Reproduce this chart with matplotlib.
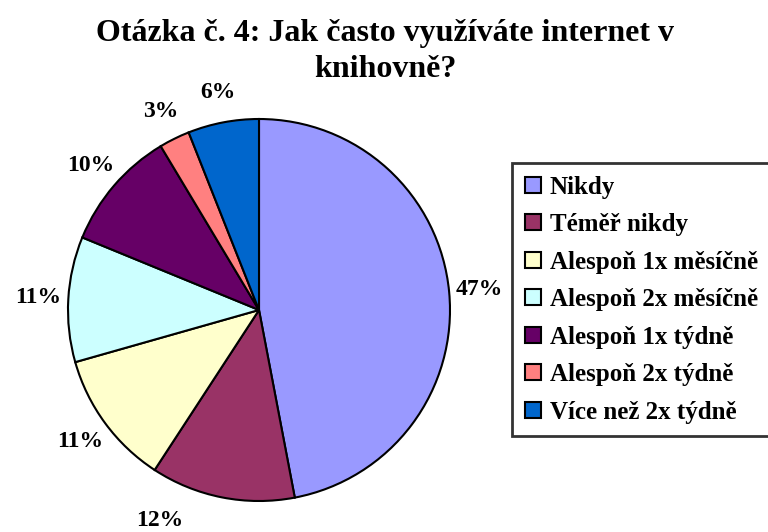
import matplotlib
matplotlib.use("Agg")
import matplotlib.pyplot as plt

# data (share of respondents, %)
categories = ["Nikdy", "Téměř nikdy", "Alespoň 1x měsíčně", "Alespoň 2x měsíčně",
              "Alespoň 1x týdně", "Alespoň 2x týdně", "Více než 2x týdně"]
values = [47.0, 12.2, 11.4, 10.6, 10.2, 2.6, 6.0]
colors = ["#9999FF", "#993366", "#FFFFCC", "#CCFFFF", "#660066", "#FF8080", "#0066CC"]

plt.rcParams["font.family"] = ["Liberation Serif", "DejaVu Serif"]
plt.rcParams["font.weight"] = "bold"

fig = plt.figure(figsize=(7.68, 5.32), dpi=100)
ax = fig.add_axes([68 / 768, 31 / 532, 382 / 768, 382 / 532])

wedges, texts, autotexts = ax.pie(
    values, colors=colors, startangle=90, counterclock=False,
    autopct="%.0f%%", pctdistance=1.16,
    wedgeprops=dict(edgecolor="black", linewidth=1.5),
    textprops=dict(fontsize=17, fontweight="bold"),
)
ax.set_xlim(-1, 1)
ax.set_ylim(-1, 1)
ax.set_aspect("equal")
# Excel pushed the 12 % label a bit to the left
autotexts[1].set_position((-0.52, -1.10))

fig.text(385 / 768, 1 - 19 / 532, "Otázka č. 4: Jak často využíváte internet v\nknihovně?",
         ha="center", va="top", fontsize=23, fontweight="bold", linespacing=1.3)

leg = fig.legend(wedges, categories, loc="upper left",
                 bbox_to_anchor=(512 / 768, 1 - 163 / 532),
                 fontsize=18, frameon=True, fancybox=False, edgecolor="black",
                 handlelength=0.65, handleheight=0.62, handletextpad=0.35,
                 labelspacing=0.58, borderpad=0.5, borderaxespad=0)
leg.get_frame().set_linewidth(2)
for t in leg.get_texts():
    t.set_fontweight("bold")

fig.savefig("out.png", dpi=100)
